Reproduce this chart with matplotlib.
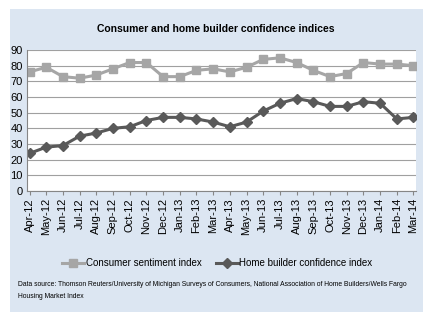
import matplotlib.pyplot as plt
from matplotlib.patches import Rectangle

months = ['Apr-12', 'May-12', 'Jun-12', 'Jul-12', 'Aug-12', 'Sep-12', 'Oct-12', 'Nov-12',
          'Dec-12', 'Jan-13', 'Feb-13', 'Mar-13', 'Apr-13', 'May-13', 'Jun-13', 'Jul-13',
          'Aug-13', 'Sep-13', 'Oct-13', 'Nov-13', 'Dec-13', 'Jan-14', 'Feb-14', 'Mar-14']
consumer = [76, 79, 73, 72, 74, 78, 82, 82, 73, 73, 77, 78,
            76, 79, 84, 85, 82, 77, 73, 75, 82, 81, 81, 80]
builder = [24, 28, 29, 35, 37, 40, 41, 45, 47, 47, 46, 44,
           41, 44, 51, 56, 59, 57, 54, 54, 57, 56, 46, 47]

plt.rcParams['font.family'] = ['Liberation Sans', 'DejaVu Sans']

W, H = 444, 331
fig = plt.figure(figsize=(W / 100, H / 100), dpi=100)
fig.patch.set_facecolor('white')

# light blue panel behind the chart
panel = Rectangle((10 / W, 1 - 312 / H), 413 / W, 303 / H, transform=fig.transFigure,
                  facecolor='#dce6f2', edgecolor='none', zorder=-10)
fig.add_artist(panel)

ax = fig.add_axes([27 / W, 1 - 191 / H, 389 / W, 141 / H], zorder=5)
ax.set_facecolor('white')

x = list(range(len(months)))
ax.plot(x, consumer, color='#a6a6a6', marker='s', markersize=6, linewidth=2.2,
        label='Consumer sentiment index')
ax.plot(x, builder, color='#595959', marker='D', markersize=5.5, linewidth=2.2,
        label='Home builder confidence index')

ax.set_ylim(0, 90)
ax.set_yticks(range(0, 91, 10))
ax.set_xlim(-0.15, len(months) - 0.85)
ax.set_xticks(x)
ax.set_xticklabels(months, rotation=90, fontsize=8)
ax.tick_params(axis='y', labelsize=8, length=0, pad=3)
ax.tick_params(axis='x', length=3, color='#868686', pad=2)
ax.grid(axis='y', color='#a0a0a0', linewidth=0.8)
ax.set_axisbelow(True)
for s in ['top', 'right']:
    ax.spines[s].set_visible(False)
for s in ['left', 'bottom']:
    ax.spines[s].set_color('#868686')

fig.text(0.485, 1 - 29 / H, 'Consumer and home builder confidence indices',
         ha='center', va='center', fontsize=7.5, fontweight='bold')

fig.legend(loc='center', bbox_to_anchor=(0.49, 1 - 263 / H), ncol=2, frameon=False,
           fontsize=7, handlelength=2.2, columnspacing=1.5, handletextpad=0.2)

fig.text(18 / W, 1 - 284 / H,
         'Data source: Thomson Reuters/University of Michigan Surveys of Consumers, '
         'National Association of Home Builders/Wells Fargo',
         ha='left', va='center', fontsize=4.9)
fig.text(18 / W, 1 - 297 / H, 'Housing Market Index', ha='left', va='center', fontsize=4.9)

fig.savefig('out.png', dpi=100)
